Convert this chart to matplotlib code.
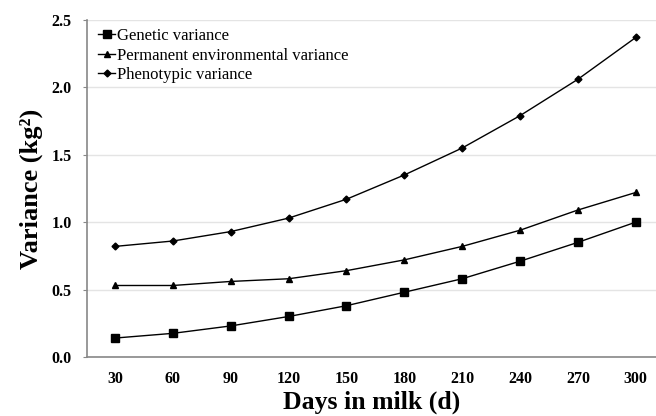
import numpy as np
import matplotlib.pyplot as plt

plt.rcParams['font.family'] = ['Liberation Serif', 'DejaVu Serif']

days = [30, 60, 90, 120, 150, 180, 210, 240, 270, 300]
genetic = [0.14, 0.175, 0.23, 0.30, 0.38, 0.48, 0.58, 0.71, 0.85, 1.00]
perm_env = [0.53, 0.53, 0.56, 0.58, 0.64, 0.72, 0.82, 0.94, 1.09, 1.22]
phenotypic = [0.82, 0.86, 0.93, 1.03, 1.17, 1.35, 1.55, 1.79, 2.06, 2.37]
yticks = [0.0, 0.5, 1.0, 1.5, 2.0, 2.5]

fig = plt.figure(figsize=(6.56, 4.16), dpi=100)
ax = fig.add_axes([0.133, 0.142, 0.867, 0.81])

x = np.arange(len(days))
ax.plot(x, genetic, color='black', lw=1, marker='s', ms=6, label='Genetic variance')
ax.plot(x, perm_env, color='black', lw=1, marker='^', ms=5, label='Permanent environmental variance')
ax.plot(x, phenotypic, color='black', lw=1, marker='D', ms=3.5, label='Phenotypic variance')

ax.set_xlim(-0.48, 9.35)
ax.set_ylim(0, 2.5)
ax.set_xticks(x)
ax.set_xticklabels([str(d) for d in days])
ax.set_yticks(yticks)
ax.set_yticklabels([f'{t:.1f}' for t in yticks])
ax.tick_params(axis='x', length=0, pad=10, labelsize=11.5)
ax.tick_params(axis='y', length=3, width=0.8, color='#888888', pad=8, labelsize=11.5)
for lab in ax.get_xticklabels() + ax.get_yticklabels():
    lab.set_fontweight('bold')

ax.grid(axis='y', color='#e4e4e4', lw=1)
ax.set_axisbelow(True)
for s in ['top', 'right']:
    ax.spines[s].set_visible(False)
for s in ['left', 'bottom']:
    ax.spines[s].set_color('#888888')
    ax.spines[s].set_linewidth(1.2)

ax.set_xlabel('Days in milk (d)', fontsize=18.5, fontweight='bold', labelpad=3)
ax.set_ylabel('Variance (kg²)', fontsize=19, fontweight='bold', labelpad=6)

leg = ax.legend(loc='upper left', frameon=False, fontsize=12, handlelength=1.0,
                handletextpad=0.1, labelspacing=0.2, borderaxespad=0.1,
                bbox_to_anchor=(0.005, 1.0))

fig.savefig('out.png', dpi=100)
